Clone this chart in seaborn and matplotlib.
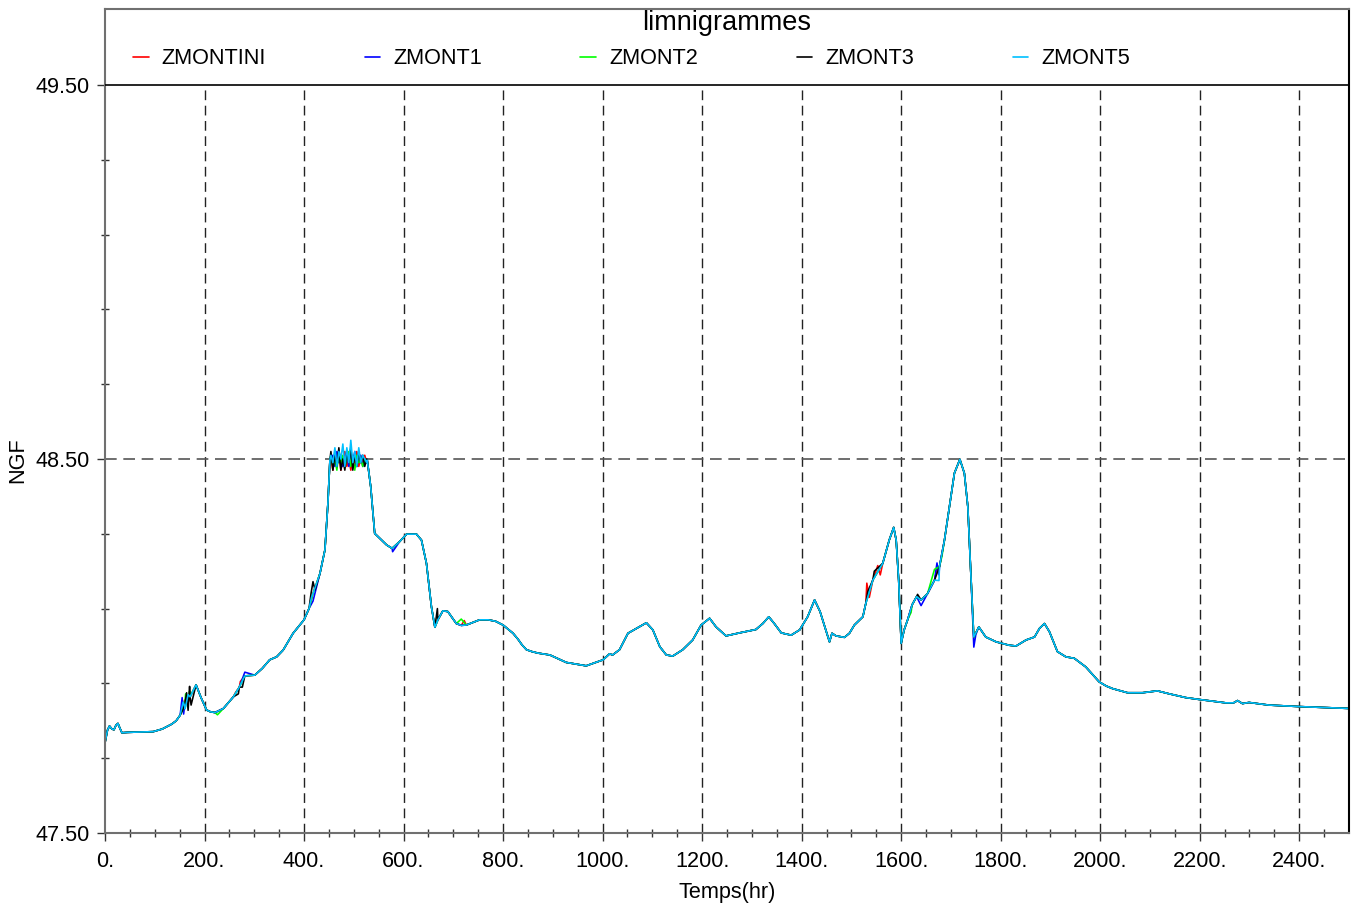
import numpy as np
import pandas as pd
import matplotlib
matplotlib.use("Agg")
import matplotlib.pyplot as plt
from matplotlib.ticker import FixedLocator, FuncFormatter
from matplotlib.lines import Line2D
import seaborn as sns

# ---------------------------------------------------------------------------
# Water levels (m NGF) against time (hours)
# ---------------------------------------------------------------------------
series_names = ["ZMONTINI", "ZMONT1", "ZMONT2", "ZMONT3", "ZMONT5"]
series_colors = ["#ff0000", "#0000ff", "#00ff00", "#000000", "#00c0ff"]

# Common trace shared by all gauges
hours = [0, 5, 9, 14, 18, 22, 26, 30, 34, 45, 70, 97, 115, 134, 143, 151, 160,
         171, 183, 193, 204, 212, 221, 238, 258, 270, 281, 301, 316, 331, 345,
         358, 378, 400, 410, 418, 432, 442, 448, 452, 527, 534, 542, 549, 566,
         577, 592, 606, 626, 636, 646, 656, 663, 669, 679, 689, 706, 716, 726,
         753, 770, 785, 800, 820, 830, 838, 847, 858, 870, 894, 927, 967, 1001,
         1014, 1020, 1034, 1051, 1068, 1088, 1101, 1115, 1128, 1141, 1161, 1181,
         1198, 1215, 1228, 1248, 1275, 1308, 1322, 1334, 1345, 1359, 1379, 1396,
         1412, 1426, 1437, 1456, 1461, 1469, 1486, 1496, 1506, 1523, 1529,
         1543, 1563, 1576, 1585, 1590, 1595, 1600, 1606, 1613, 1622, 1631,
         1640, 1653, 1667, 1677, 1687, 1697, 1707, 1718, 1727, 1734, 1740,
         1746, 1756, 1770, 1791, 1817, 1831, 1851, 1868, 1878, 1888, 1898,
         1914, 1931, 1948, 1971, 1986, 1998, 2012, 2025, 2055, 2085, 2115, 2139,
         2172, 2199, 2252, 2268, 2276, 2286, 2299, 2339, 2400, 2500]
level = [47.741, 47.775, 47.786, 47.778, 47.776, 47.788, 47.793, 47.780, 47.768,
         47.769, 47.770, 47.771, 47.778, 47.791, 47.800, 47.815, 47.840, 47.864,
         47.896, 47.862, 47.829, 47.824, 47.822, 47.833, 47.864, 47.890, 47.920,
         47.922, 47.940, 47.963, 47.971, 47.989, 48.034, 48.070, 48.100, 48.140,
         48.194, 48.257, 48.382, 48.497, 48.497, 48.426, 48.301, 48.292, 48.270,
         48.261, 48.279, 48.299, 48.299, 48.283, 48.221, 48.105, 48.050, 48.070,
         48.094, 48.092, 48.060, 48.055, 48.056, 48.070, 48.070, 48.066, 48.056,
         48.034, 48.018, 48.003, 47.990, 47.985, 47.981, 47.976, 47.956, 47.947,
         47.963, 47.979, 47.976, 47.990, 48.034, 48.047, 48.062, 48.043, 47.998,
         47.976, 47.973, 47.990, 48.016, 48.056, 48.074, 48.051, 48.027, 48.035,
         48.044, 48.060, 48.078, 48.060, 48.035, 48.029, 48.043, 48.078, 48.123,
         48.092, 48.011, 48.034, 48.027, 48.023, 48.034, 48.056, 48.078, 48.114,
         48.176, 48.221, 48.283, 48.317, 48.283, 48.176, 48.007, 48.043, 48.070,
         48.110, 48.132, 48.123, 48.140, 48.176, 48.212, 48.283, 48.372, 48.462,
         48.499, 48.462, 48.372, 48.194, 48.024, 48.051, 48.024, 48.011, 48.002,
         48.000, 48.016, 48.024, 48.047, 48.060, 48.038, 47.985, 47.971, 47.967,
         47.944, 47.922, 47.904, 47.893, 47.886, 47.875, 47.875, 47.880, 47.872,
         47.862, 47.857, 47.848, 47.848, 47.854, 47.846, 47.849, 47.842, 47.838,
         47.833]

# Oscillating plateau near the spillway crest, per gauge
plateau_hours = [454, 458, 462, 466, 470, 474, 478, 482, 486, 490, 494, 498,
                 502, 506, 510, 514, 518, 522, 526]
plateau_zmontini = [48.50, 48.47, 48.52, 48.48, 48.51, 48.47, 48.50, 48.52, 48.48,
                    48.50, 48.47, 48.51, 48.49, 48.52, 48.48, 48.50, 48.49, 48.51, 48.49]
plateau_zmont1 = [48.49, 48.51, 48.48, 48.52, 48.49, 48.51, 48.48, 48.50, 48.52,
                  48.48, 48.51, 48.49, 48.52, 48.48, 48.50, 48.51, 48.48, 48.50, 48.49]
plateau_zmont2 = [48.51, 48.48, 48.50, 48.47, 48.52, 48.49, 48.51, 48.48, 48.50,
                  48.52, 48.48, 48.50, 48.47, 48.51, 48.49, 48.50, 48.48, 48.50, 48.49]
plateau_zmont3 = [48.52, 48.47, 48.51, 48.48, 48.53, 48.47, 48.50, 48.47, 48.52,
                  48.49, 48.53, 48.47, 48.51, 48.48, 48.52, 48.49, 48.51, 48.48, 48.50]
plateau_zmont5 = [48.51, 48.49, 48.53, 48.48, 48.52, 48.50, 48.54, 48.48, 48.53,
                  48.49, 48.55, 48.49, 48.52, 48.48, 48.53, 48.49, 48.51, 48.50, 48.49]

# Local readings where a gauge departs from the common trace
zmontini_hours = [160, 166, 262, 272, 722, 1531, 1536, 1553, 1558, 1672]
zmontini_level = [47.855, 47.845, 47.875, 47.905, 48.068, 48.168, 48.130, 48.215,
                  48.190, 48.205]
zmont1_hours = [155, 158, 163, 281, 418, 578, 1640, 1672, 1676, 1746, 1750]
zmont1_level = [47.862, 47.818, 47.855, 47.930, 48.120, 48.252, 48.108, 48.222,
                48.190, 47.997, 48.030]
zmont2_hours = [162, 166, 170, 226, 716, 1620, 1667, 1682]
zmont2_level = [47.872, 47.838, 47.880, 47.816, 48.072, 48.090, 48.205, 48.240]
zmont3_hours = [164, 167, 170, 173, 268, 276, 414, 418, 422, 668, 1458, 1533,
                1546, 1633]
zmont3_level = [47.875, 47.828, 47.892, 47.842, 47.872, 47.890, 48.140, 48.172,
                48.150, 48.100, 48.020, 48.146, 48.200, 48.138]
zmont5_hours = [157, 161, 167, 415, 1676]
zmont5_level = [47.850, 47.832, 47.870, 48.130, 48.175]

local = {
    "ZMONTINI": (plateau_zmontini, zmontini_hours, zmontini_level),
    "ZMONT1": (plateau_zmont1, zmont1_hours, zmont1_level),
    "ZMONT2": (plateau_zmont2, zmont2_hours, zmont2_level),
    "ZMONT3": (plateau_zmont3, zmont3_hours, zmont3_level),
    "ZMONT5": (plateau_zmont5, zmont5_hours, zmont5_level),
}

frames = []
for name in series_names:
    plateau, extra_h, extra_z = local[name]
    pts = dict(zip(hours, level))
    pts.update(zip(plateau_hours, plateau))
    pts.update(zip(extra_h, extra_z))
    t = sorted(pts)
    frames.append(pd.DataFrame({"Temps": t, "NGF": [pts[k] for k in t], "serie": name}))
df = pd.concat(frames, ignore_index=True)

# ---------------------------------------------------------------------------
sns.set_theme(style="white")
plt.rcParams["font.family"] = ["Liberation Sans", "DejaVu Sans"]
plt.rcParams["text.color"] = "black"
plt.rcParams["axes.labelcolor"] = "black"
plt.rcParams["xtick.color"] = "black"
plt.rcParams["ytick.color"] = "black"

fig = plt.figure(figsize=(13.56, 9.07), dpi=100)
ax = fig.add_axes([105 / 1356, 1 - 833 / 907, 1244 / 1356, 824 / 907])

palette = dict(zip(series_names, series_colors))
sns.lineplot(data=df, x="Temps", y="NGF", hue="serie", hue_order=series_names,
             palette=palette, estimator=None, sort=True, linewidth=1.15,
             legend=False, ax=ax)

ymin, ymax_plot, ytop = 47.5, 49.5, 49.703
ax.set_xlim(0, 2500)
ax.set_ylim(ymin, ytop)

# Grid: vertical dashed lines up to the legend band, one horizontal dashed line
grid_x = [200, 400, 600, 800, 1000, 1200, 1400, 1600, 1800, 2000, 2200, 2400]
ax.vlines(grid_x, ymin, ymax_plot, colors="#222222", linewidth=1.0,
          linestyles=(0, (7, 4)), zorder=0)
ax.hlines(48.5, 0, 2500, colors="#555555", linewidth=1.2,
          linestyles=(0, (7, 4)), zorder=0)
ax.axhline(ymax_plot, color="black", linewidth=1.2, zorder=3)

# Ticks
major_x = [0, 200, 400, 600, 800, 1000, 1200, 1400, 1600, 1800, 2000, 2200, 2400]
minor_x = [v for v in range(50, 2500, 50) if v % 200 != 0]
ax.xaxis.set_major_locator(FixedLocator(major_x))
ax.xaxis.set_minor_locator(FixedLocator(minor_x))
ax.xaxis.set_major_formatter(FuncFormatter(lambda v, p: f"{int(v)}."))

major_y = [47.5, 48.5, 49.5]
minor_y = [47.7, 47.9, 48.1, 48.3, 48.7, 48.9, 49.1, 49.3]
ax.yaxis.set_major_locator(FixedLocator(major_y))
ax.yaxis.set_minor_locator(FixedLocator(minor_y))
ax.yaxis.set_major_formatter(FuncFormatter(lambda v, p: f"{v:.2f}"))

ax.tick_params(axis="x", which="major", direction="out", length=6,
               width=1.0, color="#333333", labelsize=15.6, pad=7,
               labelcolor="black", bottom=True)
ax.tick_params(axis="y", which="major", direction="out", length=6,
               width=1.0, color="#333333", labelsize=15.6, pad=5,
               labelcolor="black", left=True)
ax.tick_params(axis="both", which="minor", direction="inout", length=6,
               width=1.0, color="#333333", bottom=True, left=True)

for side in ["left", "bottom", "top"]:
    ax.spines[side].set_color("#707070")
    ax.spines[side].set_linewidth(1.5)
ax.spines["right"].set_color("black")
ax.spines["right"].set_linewidth(1.5)

ax.set_xlabel("Temps(hr)", fontsize=15.6, color="black")
ax.set_ylabel("NGF", fontsize=15.6, color="black")
ax.xaxis.set_label_coords(0.5, -0.060)
ax.yaxis.set_label_coords(-0.0615, (833 - 460) / 824)

# Legend band
ax.text(0.5, (833 - 23) / 824, "limnigrammes", transform=ax.transAxes,
        ha="center", va="center", fontsize=19.5, color="black")
handles = [Line2D([0], [0], color=c, lw=1.2) for c in series_colors]
leg = ax.legend(handles, series_names, ncol=5, loc="center left",
                bbox_to_anchor=((133 - 105) / 1244, (833 - 59) / 824),
                frameon=False, fontsize=15.6, handlelength=0.72,
                handletextpad=0.6, columnspacing=4.55, borderpad=0,
                borderaxespad=0)
for txt in leg.get_texts():
    txt.set_color("black")

fig.savefig("out.png", dpi=100, facecolor="white")
